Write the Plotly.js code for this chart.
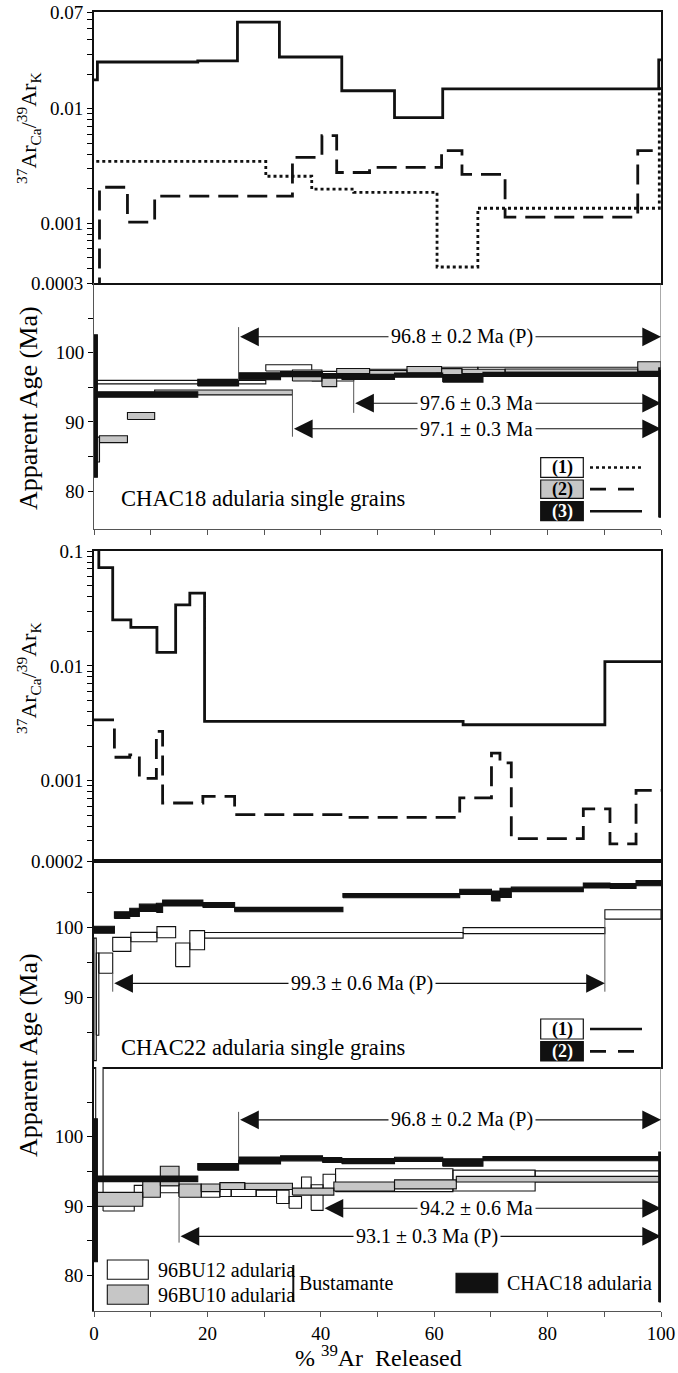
<!DOCTYPE html>
<html><head><meta charset="utf-8">
<script src="https://cdn.plot.ly/plotly-3.0.1.min.js"></script>
<style>html,body{margin:0;padding:0;background:#fff}#chart{width:678px;height:1373px}</style>
</head><body><div id="chart"></div>
<script>
// ---------- DATA ----------
// Panel 1: CHAC18 37ArCa/39ArK step data (cumulative % 39Ar edges, values)
const c18g1CaEdges = [0.4, 30.3, 38.4, 45.8, 60.5, 67.7, 99.7, 100];
const c18g1CaVals  = [0.00346, 0.00257, 0.00198, 0.00186, 0.000414, 0.00135, 0.0150];
const c18g2CaEdges = [0, 0.97, 5.9, 10.7, 35.0, 40.2, 42.8, 48.6, 61.3, 64.9, 72.5, 95.9, 100];
const c18g2CaVals  = [0.00025, 0.00206, 0.00102, 0.00172, 0.00375, 0.00582, 0.00277, 0.00307, 0.00431, 0.00267, 0.00113, 0.00431];
const c18g3CaEdges = [0, 0.6, 18.3, 25.3, 32.7, 43.7, 53.0, 61.5, 99.6, 100];
const c18g3CaVals  = [0.0179, 0.0256, 0.0262, 0.0571, 0.0283, 0.01435, 0.00835, 0.0149, 0.0267];

// Panel 2: CHAC18 apparent ages (Ma) with 2-sigma errors
const c18g1Edges = [0.4, 30.3, 38.4, 45.8, 60.5, 67.7, 100];
const c18g1Age   = [95.75, 97.8, 96.6, 97.3, 97.5, 97.65];
const c18g1Err   = [0.25, 0.45, 0.7, 0.3, 0.4, 0.25];
const c18g2Edges = [0, 0.97, 5.9, 10.7, 35.0, 40.2, 42.8, 48.6, 55.2, 61.3, 64.9, 72.5, 95.9, 100];
const c18g2Age   = [86.0, 87.5, 90.85, 94.25, 96.7, 95.8, 97.35, 97.1, 97.55, 97.25, 97.3, 97.4, 98.0];
const c18g2Err   = [1.8, 0.5, 0.5, 0.35, 0.8, 0.7, 0.36, 0.35, 0.45, 0.45, 0.3, 0.25, 0.7];
const c18g3Edges = [0, 0.6, 18.3, 25.5, 32.9, 40.3, 43.7, 53.0, 61.5, 68.6, 99.6, 100];
const c18g3Age   = [92.3, 93.95, 95.67, 96.6, 96.9, 96.65, 96.5, 96.75, 96.3, 96.85, 87.0];
const c18g3Err   = [10.3, 0.4, 0.48, 0.5, 0.36, 0.35, 0.36, 0.3, 0.55, 0.3, 10.8];

// Panel 3: CHAC22 37ArCa/39ArK
const c22g1CaEdges = [0, 0.85, 3.3, 6.5, 11.1, 14.4, 16.9, 19.5, 65.1, 90.1, 100];
const c22g1CaVals  = [0.13, 0.0716, 0.0251, 0.0216, 0.0131, 0.0339, 0.0429, 0.00328, 0.00307, 0.0109];
const c22g2CaEdges = [0, 3.6, 6.3, 8.0, 11.0, 12.1, 19.2, 24.8, 43.9, 64.5, 70.1, 71.6, 73.6, 86.3, 91.0, 95.6, 100];
const c22g2CaVals  = [0.00339, 0.00160, 0.00168, 0.00105, 0.00269, 0.000640, 0.000730, 0.000506, 0.000480, 0.000708, 0.00174, 0.00143, 0.000313, 0.000568, 0.000282, 0.000824];

// Panel 4: CHAC22 apparent ages
const c22g1Edges = [0, 0.4, 0.85, 3.3, 6.5, 11.1, 14.4, 16.9, 19.5, 65.1, 90.1, 100];
const c22g1Age   = [89.7, 90.45, 94.9, 97.6, 98.65, 99.35, 96.1, 98.2, 98.9, 99.57, 101.9];
const c22g1Err   = [8.8, 5.9, 1.45, 1.0, 0.67, 0.8, 1.7, 1.37, 0.4, 0.43, 0.67];
const c22g2Edges = [0, 3.6, 6.3, 8.0, 11.0, 12.1, 19.2, 24.8, 43.9, 64.5, 70.1, 71.6, 73.6, 86.3, 91.0, 95.6, 100];
const c22g2Age   = [99.7, 101.8, 102.2, 102.85, 102.85, 103.55, 103.25, 102.6, 104.6, 105.15, 104.55, 105.0, 105.5, 106.05, 106.0, 106.4];
const c22g2Err   = [0.5, 0.48, 0.6, 0.53, 0.65, 0.43, 0.36, 0.32, 0.3, 0.36, 0.72, 0.67, 0.32, 0.36, 0.35, 0.38];

// Panel 5: Bustamante adularia vs CHAC18
const bu12Edges = [0.3, 1.6, 7.1, 8.6, 11.7, 15.0, 18.9, 22.2, 24.2, 28.6, 32.2, 34.4, 36.6, 38.3, 40.4, 42.6, 63.3, 77.8, 100];
const bu12Age   = [105, 89.9, 92.0, 92.3, 92.45, 92.0, 91.9, 91.9, 91.9, 91.85, 91.35, 90.55, 93.3, 91.25, 93.5, 93.75, 93.7, 94.3];
const bu12Err   = [15, 0.6, 1.0, 0.8, 0.5, 0.6, 0.6, 0.5, 0.5, 0.45, 0.95, 0.85, 0.9, 1.85, 1.1, 1.65, 1.5, 0.8];
const bu10Edges = [0.5, 8.6, 11.7, 15.0, 18.9, 22.2, 26.6, 35.0, 42.3, 53.0, 63.9, 100];
const bu10Age   = [91.0, 92.5, 94.35, 92.25, 92.65, 92.9, 92.85, 92.1, 92.85, 93.15, 93.9];
const bu10Err   = [1.0, 1.2, 1.4, 0.95, 0.55, 0.5, 0.45, 0.5, 0.65, 0.65, 0.4];

// Plateau ages
const p2PlatLabels = ['96.8 ± 0.2 Ma (P)', '97.6 ± 0.3 Ma', '97.1 ± 0.3 Ma'];
const p2PlatStart  = [25.5, 45.8, 35.0];
const p2PlatEnd    = [100, 100, 100];
const p4PlatLabels = ['99.3 ± 0.6 Ma (P)'];
const p4PlatStart  = [3.3];
const p4PlatEnd    = [90.1];
const p5PlatLabels = ['96.8 ± 0.2 Ma (P)', '94.2 ± 0.6 Ma', '93.1 ± 0.3 Ma (P)'];
const p5PlatStart  = [25.5, 40.4, 15.0];
const p5PlatEnd    = [100, 100, 100];

// Tick labels
const xTickVals = [0,10,20,30,40,50,60,70,80,90,100];
const xTickText = ['0','','20','','40','','60','','80','','100'];
const ageTickVals = [80,85,90,95,100,105];
const ageTickText = ['80','','90','','100',''];
const ageTickVals4 = [85,90,95,100,105];
const ageTickText4 = ['','90','','100',''];
const logTicks1 = [0.0003,0.0004,0.0005,0.0006,0.0007,0.0008,0.0009,0.001,0.002,0.003,0.004,0.005,0.006,0.007,0.008,0.009,0.01,0.02,0.03,0.04,0.05,0.06,0.07];
const logText1  = logTicks1.map(v => ({0.0003:'0.0003',0.001:'0.001',0.01:'0.01',0.07:'0.07'})[v] || '');
const logTicks3 = [0.0002,0.0003,0.0004,0.0005,0.0006,0.0007,0.0008,0.0009,0.001,0.002,0.003,0.004,0.005,0.006,0.007,0.008,0.009,0.01,0.02,0.03,0.04,0.05,0.06,0.07,0.08,0.09,0.1];
const logText3  = logTicks3.map(v => ({0.0002:'0.0002',0.001:'0.001',0.01:'0.01',0.1:'0.1'})[v] || '');

// ---------- HELPERS ----------
const FONT = '"Liberation Serif", "Times New Roman", serif';
const PX = px => (px - 94) / 567;
const PY = py => (1311 - py) / 1299;
function stepXY(edges, vals){
  const x=[], y=[];
  for (let i=0;i<vals.length;i++){ x.push(edges[i]); y.push(vals[i]); }
  x.push(edges[edges.length-1]); y.push(vals[vals.length-1]);
  return {x, y};
}
function boxXY(edges, age, err){
  const x=[], y=[];
  for (let i=0;i<age.length;i++){
    const a=edges[i], b=edges[i+1], lo=age[i]-err[i], hi=age[i]+err[i];
    x.push(a,b,b,a,a,null); y.push(lo,lo,hi,hi,lo,null);
  }
  return {x, y};
}
function stepTrace(edges, vals, ax, dash){
  const s = stepXY(edges, vals);
  return {type:'scatter', mode:'lines', x:s.x, y:s.y, xaxis:'x'+ax, yaxis:'y'+ax,
    line:{shape:'hv', color:'#111', width:2.8, dash:dash}, hoverinfo:'skip'};
}
function boxTrace(edges, age, err, ax, fill){
  const b = boxXY(edges, age, err);
  return {type:'scatter', mode:'lines', x:b.x, y:b.y, xaxis:'x'+ax, yaxis:'y'+ax,
    fill:'toself', fillcolor:fill, line:{color:'#111', width:1.1}, hoverinfo:'skip'};
}
const WHITE='#ffffff', GRAY='#c6c6c6', BLACK='#111111';
const DASH='20px,9px';

const traces = [
  stepTrace(c18g1CaEdges, c18g1CaVals, '', 'dot'),
  stepTrace(c18g2CaEdges, c18g2CaVals, '', DASH),
  stepTrace(c18g3CaEdges, c18g3CaVals, '', 'solid'),
  boxTrace(c18g1Edges, c18g1Age, c18g1Err, '2', WHITE),
  boxTrace(c18g2Edges, c18g2Age, c18g2Err, '2', GRAY),
  boxTrace(c18g3Edges, c18g3Age, c18g3Err, '2', BLACK),
  stepTrace(c22g1CaEdges, c22g1CaVals, '3', 'solid'),
  stepTrace(c22g2CaEdges, c22g2CaVals, '3', DASH),
  boxTrace(c22g1Edges, c22g1Age, c22g1Err, '4', WHITE),
  boxTrace(c22g2Edges, c22g2Age, c22g2Err, '4', BLACK),
  boxTrace(bu12Edges, bu12Age, bu12Err, '5', WHITE),
  boxTrace(bu10Edges, bu10Age, bu10Err, '5', GRAY),
  boxTrace(c18g3Edges, c18g3Age, c18g3Err, '5', BLACK)
];

// ---------- LAYOUT ----------
const tickFont = {family:FONT, size:19, color:'#000'};
const baseX = {range:[0,100], domain:[0,1], showgrid:false, zeroline:false, fixedrange:true};
const baseY = {showgrid:false, zeroline:false, fixedrange:true, tickfont:tickFont, ticks:'outside', ticklen:5, tickwidth:1, tickcolor:'#000'};

const layout = {
  width:678, height:1373, margin:{l:94, r:17, t:12, b:62},
  paper_bgcolor:'#fff', plot_bgcolor:'rgba(0,0,0,0)', showlegend:false, hovermode:false,
  font:{family:FONT, color:'#000'},
  xaxis: Object.assign({}, baseX, {anchor:'y', showline:true, mirror:true, linewidth:2, linecolor:'#111', ticks:'', showticklabels:false}),
  yaxis: Object.assign({}, baseY, {type:'log', domain:[PY(283), 1], range:[Math.log10(0.0003), Math.log10(0.07)],
    showline:true, mirror:true, linewidth:2, linecolor:'#111', tickmode:'array', tickvals:logTicks1, ticktext:logText1}),
  xaxis2: Object.assign({}, baseX, {anchor:'y2', showline:true, linewidth:1, linecolor:'#555', ticks:'outside', ticklen:5, tickcolor:'#555',
    tickmode:'array', tickvals:xTickVals, showticklabels:false}),
  yaxis2: Object.assign({}, baseY, {domain:[PY(528.5), PY(283)], range:[74.58, 110.08], showline:true, linewidth:1, linecolor:'#555',
    tickmode:'array', tickvals:ageTickVals, ticktext:ageTickText}),
  xaxis3: Object.assign({}, baseX, {anchor:'y3', showline:true, mirror:true, linewidth:2, linecolor:'#111', ticks:'', showticklabels:false}),
  yaxis3: Object.assign({}, baseY, {type:'log', domain:[PY(861), PY(551)], range:[Math.log10(0.0002), -1],
    showline:true, mirror:true, linewidth:2, linecolor:'#111', tickmode:'array', tickvals:logTicks3, ticktext:logText3}),
  xaxis4: Object.assign({}, baseX, {anchor:'y4', showline:true, mirror:true, linewidth:2, linecolor:'#111', ticks:'', showticklabels:false}),
  yaxis4: Object.assign({}, baseY, {domain:[PY(1067), PY(861)], range:[79.98, 109.58], showline:true, mirror:true, linewidth:2, linecolor:'#111',
    tickmode:'array', tickvals:ageTickVals4, ticktext:ageTickText4}),
  xaxis5: Object.assign({}, baseX, {anchor:'y5', showline:true, linewidth:1, linecolor:'#555', ticks:'outside', ticklen:5, tickcolor:'#555',
    tickmode:'array', tickvals:xTickVals, ticktext:xTickText, tickfont:tickFont}),
  yaxis5: Object.assign({}, baseY, {domain:[0, PY(1067)], range:[74.89, 110.07], showline:true, linewidth:2, linecolor:'#111',
    tickmode:'array', tickvals:ageTickVals, ticktext:ageTickText}),
  shapes:[], annotations:[]
};

// Axis titles
const caTitle = '<sup>37</sup>Ar<sub>Ca</sub>/<sup>39</sup>Ar<sub>K</sub>';
layout.annotations.push(
  {xref:'paper', yref:'paper', x:PX(28), y:PY(128), text:caTitle, textangle:-90, showarrow:false, xanchor:'center', yanchor:'middle', font:{family:FONT, size:22}},
  {xref:'paper', yref:'paper', x:PX(28), y:PY(678), text:caTitle, textangle:-90, showarrow:false, xanchor:'center', yanchor:'middle', font:{family:FONT, size:22}},
  {xref:'paper', yref:'paper', x:PX(28), y:PY(408), text:'Apparent Age (Ma)', textangle:-90, showarrow:false, xanchor:'center', yanchor:'middle', font:{family:FONT, size:26}},
  {xref:'paper', yref:'paper', x:PX(28), y:PY(1055), text:'Apparent Age (Ma)', textangle:-90, showarrow:false, xanchor:'center', yanchor:'middle', font:{family:FONT, size:26}},
  {xref:'paper', yref:'paper', x:PX(378), y:PY(1356), text:'% <sup>39</sup>Ar&nbsp; Released', showarrow:false, xanchor:'center', yanchor:'middle', font:{family:FONT, size:24}}
);

// Plateau arrows
function addPlateaus(ax, labels, starts, ends, yLevels, textX, leftTicks, rightTicks){
  const xr='x'+ax, yr='y'+ax;
  labels.forEach((lab,i)=>{
    layout.annotations.push({xref:xr, yref:yr, axref:xr, ayref:yr, x:ends[i], y:yLevels[i], ax:starts[i], ay:yLevels[i],
      text:'', showarrow:true, arrowside:'end+start', arrowhead:2, startarrowhead:2, arrowsize:3.4, startarrowsize:3.4,
      arrowwidth:1.1, arrowcolor:'#111', standoff:0, startstandoff:0});
    if (leftTicks[i]) layout.shapes.push({type:'line', xref:xr, yref:yr, x0:starts[i], x1:starts[i], y0:leftTicks[i][0], y1:leftTicks[i][1], line:{color:'#555', width:1}});
    if (rightTicks[i]) layout.shapes.push({type:'line', xref:xr, yref:yr, x0:ends[i], x1:ends[i], y0:rightTicks[i][0], y1:rightTicks[i][1], line:{color:'#555', width:1}});
  });
  labels.forEach((lab,i)=>{
    layout.annotations.push({xref:xr, yref:yr, x:textX[i], y:yLevels[i], text:lab, showarrow:false, bgcolor:'#fff', borderpad:2,
      xanchor:'center', yanchor:'middle', font:{family:FONT, size:20}});
  });
}
addPlateaus('2', p2PlatLabels, p2PlatStart, p2PlatEnd, [102.3, 92.7, 89.0], [64.9, 67.4, 67.4],
  [[103.7, 96.05], [96.05, 91.3], [94.6, 87.85]], [[110.1, 97.5], null, null]);
addPlateaus('4', p4PlatLabels, p4PlatStart, p4PlatEnd, [92.0], [47.3], [[93.5, 90.8]], [[101.25, 90.8]]);
addPlateaus('5', p5PlatLabels, p5PlatStart, p5PlatEnd, [102.45, 89.7, 85.65], [64.9, 67.4, 58.7],
  [[103.6, 96.7], null, [91.2, 84.75]], [[110.1, 98.1], null, null]);

// Sample labels
layout.annotations.push(
  {xref:'paper', yref:'paper', x:PX(119), y:PY(498), text:'CHAC18 adularia single grains', showarrow:false, xanchor:'left', yanchor:'middle', font:{family:FONT, size:22.6}},
  {xref:'paper', yref:'paper', x:PX(119), y:PY(1047), text:'CHAC22 adularia single grains', showarrow:false, xanchor:'left', yanchor:'middle', font:{family:FONT, size:22.6}}
);

// Legends (panel 2 & 4)
function legendRow(y0, y1, fill, label, txtColor, dash){
  layout.shapes.push({type:'rect', xref:'paper', yref:'paper', x0:PX(540.7), x1:PX(583.3), y0:PY(y1), y1:PY(y0), fillcolor:fill, line:{color:'#111', width:1.2}});
  layout.annotations.push({xref:'paper', yref:'paper', x:PX(562), y:PY((y0+y1)/2), text:'<b>'+label+'</b>', showarrow:false, xanchor:'center', yanchor:'middle', font:{family:FONT, size:18, color:txtColor}});
  layout.shapes.push({type:'line', xref:'paper', yref:'paper', x0:PX(590), x1:PX(642), y0:PY((y0+y1)/2), y1:PY((y0+y1)/2), line:{color:'#111', width:2.6, dash:dash}});
}
legendRow(457.7, 477.3, WHITE, '(1)', '#000', 'dot');
legendRow(480, 498.3, GRAY, '(2)', '#000', '16px,12px');
legendRow(501.7, 520.7, BLACK, '(3)', '#fff', 'solid');
legendRow(1019, 1039, WHITE, '(1)', '#000', 'solid');
legendRow(1041.7, 1061, BLACK, '(2)', '#fff', '16px,12px');

// Legend panel 5
layout.shapes.push(
  {type:'rect', xref:'paper', yref:'paper', x0:PX(107.3), x1:PX(148.3), y0:PY(1279.3), y1:PY(1260), fillcolor:WHITE, line:{color:'#111', width:1.1}},
  {type:'rect', xref:'paper', yref:'paper', x0:PX(107.3), x1:PX(148.3), y0:PY(1304.3), y1:PY(1285), fillcolor:GRAY, line:{color:'#111', width:1.1}},
  {type:'rect', xref:'paper', yref:'paper', x0:PX(456), x1:PX(497.7), y0:PY(1292.7), y1:PY(1273.3), fillcolor:BLACK, line:{color:'#111', width:1.1}},
  {type:'line', xref:'paper', yref:'paper', x0:PX(293.3), x1:PX(293.3), y0:PY(1301.7), y1:PY(1265), line:{color:'#111', width:2}}
);
layout.annotations.push(
  {xref:'paper', yref:'paper', x:PX(156), y:PY(1270), text:'96BU12 adularia', showarrow:false, xanchor:'left', yanchor:'middle', font:{family:FONT, size:20}},
  {xref:'paper', yref:'paper', x:PX(156), y:PY(1295), text:'96BU10 adularia', showarrow:false, xanchor:'left', yanchor:'middle', font:{family:FONT, size:20}},
  {xref:'paper', yref:'paper', x:PX(297), y:PY(1283), text:'Bustamante', showarrow:false, xanchor:'left', yanchor:'middle', font:{family:FONT, size:20}},
  {xref:'paper', yref:'paper', x:PX(505), y:PY(1283), text:'CHAC18 adularia', showarrow:false, xanchor:'left', yanchor:'middle', font:{family:FONT, size:20}}
);

Plotly.newPlot('chart', traces, layout, {staticPlot:true, displayModeBar:false});
</script></body></html>
